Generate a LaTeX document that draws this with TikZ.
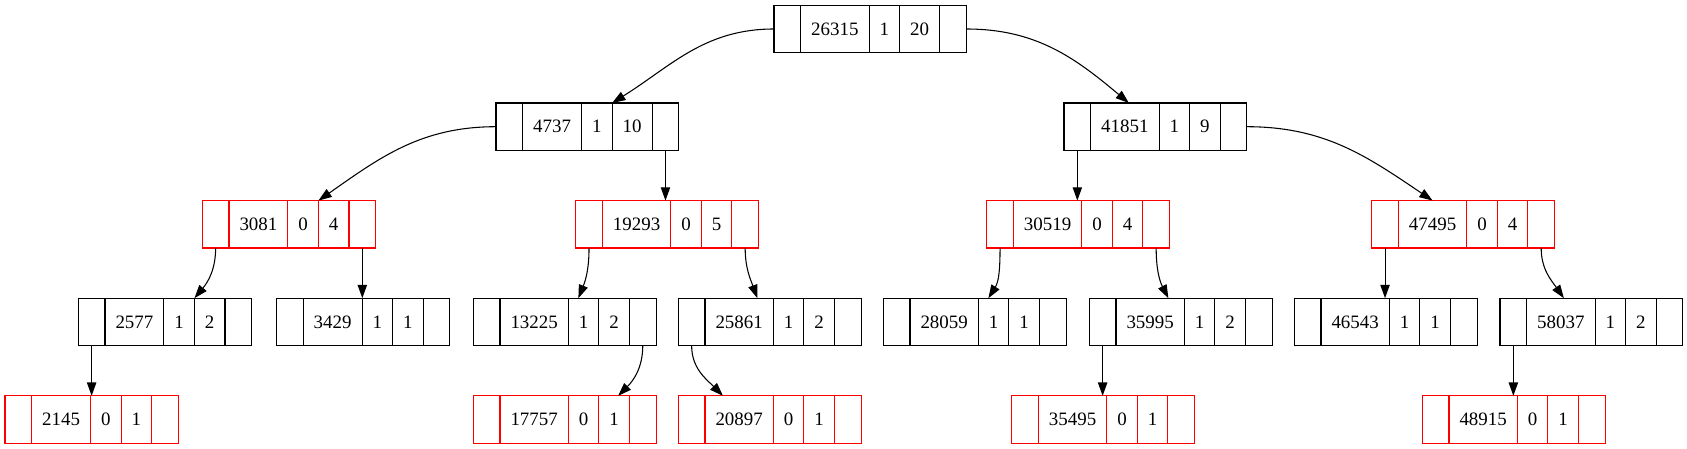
\documentclass[tikz,border=0pt]{standalone}
\usepackage{fontspec}
\setmainfont{Liberation Serif}
\usetikzlibrary{positioning,calc,arrows.meta}

\newcommand{\recnode}[7]{%
  \node[field, anchor=north west] (#1-l) at (#2,-#3) {};
  \node[field, right=0pt of #1-l] (#1-k) {#4};
  \node[field, right=0pt of #1-k] (#1-b) {#5};
  \node[field, right=0pt of #1-b] (#1-h) {#6};
  \node[field, right=0pt of #1-h] (#1-r) {};
  \draw[rim, draw=#7] (#1-l.north west) rectangle (#1-r.south east)
    (#1-k.north west) -- (#1-k.south west) (#1-b.north west) -- (#1-b.south west)
    (#1-h.north west) -- (#1-h.south west) (#1-r.north west) -- (#1-r.south west);
}

\begin{document}
\begin{tikzpicture}[x=0.75pt, y=0.75pt,
field/.style={outer sep=0pt, inner xsep=7.9pt, inner ysep=0pt, minimum width=20pt,
  minimum height=35.55pt, font=\fontsize{14.2}{16}\selectfont},
rim/.style={line width=0.8pt},
link/.style={-{Triangle[length=10pt,width=7pt]}, line width=0.8pt}]
\useasboundingbox (0,0) rectangle (1687,-449);

\recnode{r26315}{774}{5.3}{26315}{1}{20}{black}
\recnode{r4737}{496}{103}{4737}{1}{10}{black}
\recnode{r41851}{1064}{103}{41851}{1}{9}{black}
\recnode{r3081}{202.3}{200.6}{3081}{0}{4}{red}
\recnode{r19293}{575.7}{200.6}{19293}{0}{5}{red}
\recnode{r30519}{986.7}{200.6}{30519}{0}{4}{red}
\recnode{r47495}{1371.7}{200.6}{47495}{0}{4}{red}
\recnode{r2577}{78.3}{298.2}{2577}{1}{2}{black}
\recnode{r3429}{276.5}{298.2}{3429}{1}{1}{black}
\recnode{r13225}{473.3}{298.2}{13225}{1}{2}{black}
\recnode{r25861}{678.3}{298.2}{25861}{1}{2}{black}
\recnode{r28059}{883.3}{298.2}{28059}{1}{1}{black}
\recnode{r35995}{1089.3}{298.2}{35995}{1}{2}{black}
\recnode{r46543}{1294.3}{298.2}{46543}{1}{1}{black}
\recnode{r58037}{1500}{298.2}{58037}{1}{2}{black}
\recnode{r2145}{5}{395.8}{2145}{0}{1}{red}
\recnode{r17757}{473.3}{395.8}{17757}{0}{1}{red}
\recnode{r20897}{678.3}{395.8}{20897}{0}{1}{red}
\recnode{r35495}{1011.7}{395.8}{35495}{0}{1}{red}
\recnode{r48915}{1422.3}{395.8}{48915}{0}{1}{red}

\draw[link] (r26315-l.west) to[out=180,in=32] (r4737-b.north east);
\draw[link] (r26315-r.east) to[out=0,in=140] ($(r41851-k.north)+(4,0)$);
\draw[link] (r4737-l.west) to[out=180,in=35] (r3081-b.north east);
\draw[link] (r4737-r.south) -- (r4737-r.south |- r19293-k.north);
\draw[link] (r41851-l.south) -- (r41851-l.south |- r30519-k.north);
\draw[link] (r41851-r.east) to[out=0,in=146] (r47495-k.north);
\draw[link] (r3081-l.south) to[out=-90,in=50] (r2577-b.north east);
\draw[link] (r3081-r.south) -- (r3081-r.south |- r3429-k.north);
\draw[link] (r19293-l.south) to[out=-90,in=68] ($(r13225-b.north west)+(10,0)$);
\draw[link] (r19293-r.south) to[out=-90,in=110] ($(r25861-k.north east)+(-16,0)$);
\draw[link] (r30519-l.south) to[out=-90,in=58] ($(r28059-b.north west)+(10,0)$);
\draw[link] (r30519-r.south) to[out=-90,in=117] ($(r35995-k.north east)+(-16,0)$);
\draw[link] (r47495-l.south) -- (r47495-l.south |- r46543-k.north);
\draw[link] (r47495-r.south) to[out=-90,in=125] ($(r58037-k.north)+(3,0)$);
\draw[link] (r2577-l.south) -- (r2577-l.south |- r2145-k.north);
\draw[link] (r13225-r.south) to[out=-90,in=45] ($(r17757-h.north)+(4,0)$);
\draw[link] (r25861-l.south) to[out=-90,in=135] ($(r20897-k.north west)+(18,0)$);
\draw[link] (r35995-l.south) -- (r35995-l.south |- r35495-k.north);
\draw[link] (r58037-l.south) -- (r58037-l.south |- r48915-k.north);

\end{tikzpicture}
\end{document}
